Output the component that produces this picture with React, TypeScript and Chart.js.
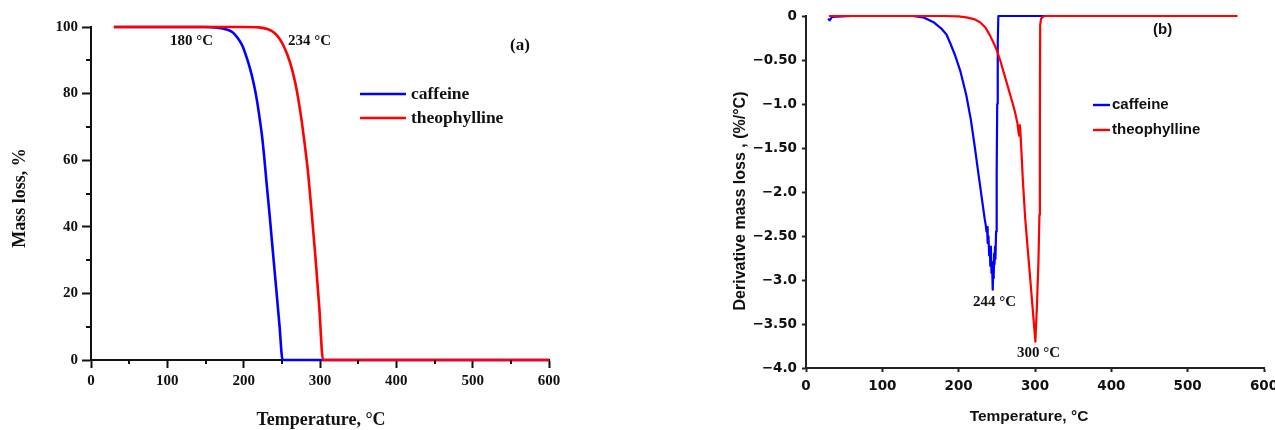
import React, { useEffect, useRef } from 'react';
import { Chart, registerables } from 'chart.js';

Chart.register(...registerables);

// ---------------- data ----------------
const seriesNames = ['caffeine', 'theophylline'];
const seriesColors = ['#0000ff', '#ff0000'];

// (a) TGA mass loss curves
const tgaCaffeineTemp = [30, 100, 150, 165, 175, 185, 192, 198, 203, 208, 213, 217, 221, 224, 227, 230, 234, 238, 243, 247, 251, 600];
const tgaCaffeineMass = [100, 100, 100, 99.8, 99.4, 98.5, 96.8, 94.5, 91.5, 87.8, 83.2, 78.5, 72.5, 67.4, 60.8, 53.2, 43.5, 33.2, 20.5, 10.2, 0, 0];

const tgaTheoTemp = [30, 200, 220, 232, 240, 247, 253, 258, 263, 268, 272, 276, 280, 284, 289, 294, 299, 304, 600];
const tgaTheoMass = [100, 100, 99.9, 99.3, 98.3, 96.5, 94, 91.2, 87.6, 82.8, 77.8, 71.8, 64.8, 57, 44.5, 31, 16, 0, 0];

// (b) DTG derivative curves
const dtgCaffeineTemp = [29, 31, 34, 60, 100, 140, 155, 167, 177, 184, 189, 195, 202, 210, 216, 221, 226, 230, 234, 235.5, 236.5, 237.2, 238, 239, 240, 240.8, 241.5, 242.2, 243, 243.8, 244.6, 245.3, 245.9, 246.5, 247, 247.6, 248.2, 249, 249.8, 250.5, 251.2, 252, 280, 400, 565];
const dtgCaffeineRate = [-0.03, -0.05, -0.01, 0, 0, 0, -0.02, -0.07, -0.14, -0.21, -0.31, -0.44, -0.62, -0.9, -1.18, -1.48, -1.8, -2.05, -2.3, -2.38, -2.45, -2.4, -2.58, -2.5, -2.72, -2.65, -2.84, -2.62, -2.92, -2.8, -3.11, -2.88, -2.98, -2.7, -2.82, -2.62, -2.76, -2.45, -1.8, -1.0, -0.3, 0, 0, 0, 0];

const dtgTheoTemp = [30, 100, 180, 200, 210, 220, 228, 235, 241, 246, 250, 255, 259, 263, 267, 271, 274, 277, 278.5, 279.3, 280.1, 280.8, 282, 284, 287, 290, 293.5, 297, 300.5, 302.5, 304.5, 305.8, 306.4, 306.8, 308, 312, 320, 400, 500, 565];
const dtgTheoRate = [0, 0, 0, -0.005, -0.015, -0.035, -0.07, -0.13, -0.22, -0.31, -0.39, -0.52, -0.64, -0.76, -0.88, -1.0, -1.1, -1.22, -1.33, -1.36, -1.24, -1.3, -1.5, -1.85, -2.28, -2.6, -2.96, -3.33, -3.7, -3.3, -2.8, -2.26, -1.2, -0.1, -0.03, 0, 0, 0, 0, 0];

// tick marks / labels
const tgaMinorX = [50, 150, 250, 350, 450, 550];
const tgaMinorY = [10, 30, 50, 70, 90];
const dtgYTickValues = [-4, -3.5, -3, -2.5, -2, -1.5, -1, -0.5, 0];
const dtgYTickLabels = ['\u22124.0', '\u22123.50', '\u22123.0', '\u22122.50', '\u22122.0', '\u22121.50', '\u22121.0', '\u22120.50', '0'];

// texts
const tgaPeakLabels = ['180 \u00b0C', '234 \u00b0C'];
const dtgPeakLabels = ['244 \u00b0C', '300 \u00b0C'];
const panelLabels = ['(a)', '(b)'];
const tgaAxisTitles = ['Temperature, \u00b0C', 'Mass loss, %'];
const dtgAxisTitles = ['Temperature, \u00b0C', 'Derivative mass loss , (%/\u00b0C)'];

// ---------------- helpers ----------------
const pts = (xs: number[], ys: number[]) => xs.map((x, i) => ({ x, y: ys[i] }));

const SERIF = "'Liberation Serif', 'Times New Roman', serif";
const SANS = "'Liberation Sans', Arial, sans-serif";
const WIDE = "'DejaVu Sans', 'Liberation Sans', sans-serif";
const INK = '#111';

type Txt = { text: string; x: number; y: number; font: string; align?: CanvasTextAlign; rot?: boolean };
type Leg = { x1: number; x2: number; y: number[]; tx: number; font: string; lw: number };
type Minor = { xs: number[]; ys: number[]; xLen: number; yLen: number; lw: number };

function overlay(id: string, texts: Txt[], legend: Leg, minor?: Minor) {
  return {
    id,
    afterDraw(chart: any) {
      const ctx = chart.ctx as CanvasRenderingContext2D;
      ctx.save();
      ctx.textBaseline = 'middle';
      ctx.fillStyle = INK;
      for (const t of texts) {
        ctx.font = t.font;
        ctx.textAlign = t.align || 'left';
        if (t.rot) {
          ctx.save();
          ctx.translate(t.x, t.y);
          ctx.rotate(-Math.PI / 2);
          ctx.fillText(t.text, 0, 0);
          ctx.restore();
        } else {
          ctx.fillText(t.text, t.x, t.y);
        }
      }
      const sorted = [...chart.data.datasets].sort((a: any, b: any) => a.legendIndex - b.legendIndex);
      sorted.forEach((ds: any, i: number) => {
        ctx.strokeStyle = ds.borderColor;
        ctx.lineWidth = legend.lw;
        ctx.beginPath();
        ctx.moveTo(legend.x1, legend.y[i]);
        ctx.lineTo(legend.x2, legend.y[i]);
        ctx.stroke();
        ctx.font = legend.font;
        ctx.textAlign = 'left';
        ctx.fillStyle = INK;
        ctx.fillText(ds.label, legend.tx, legend.y[i]);
      });
      if (minor) {
        const xs = chart.scales.x;
        const ys = chart.scales.y;
        const area = chart.chartArea;
        ctx.strokeStyle = INK;
        ctx.lineWidth = minor.lw;
        ctx.beginPath();
        for (const v of minor.xs) {
          const px = Math.round(xs.getPixelForValue(v));
          ctx.moveTo(px, area.bottom);
          ctx.lineTo(px, area.bottom + minor.xLen);
        }
        for (const v of minor.ys) {
          const py = Math.round(ys.getPixelForValue(v));
          ctx.moveTo(area.left, py);
          ctx.lineTo(area.left - minor.yLen, py);
        }
        ctx.stroke();
      }
      ctx.restore();
    },
  };
}

function lineDs(label: string, idx: number, data: any[], width: number, smooth: boolean) {
  return {
    label,
    legendIndex: idx,
    data,
    borderColor: seriesColors[idx],
    backgroundColor: seriesColors[idx],
    borderWidth: width,
    pointRadius: 0,
    tension: smooth ? 0.35 : 0,
    cubicInterpolationMode: smooth ? 'monotone' : 'default',
    borderJoinStyle: 'round',
    clip: false,
    order: idx === 1 ? 0 : 1,
  };
}

export default function App() {
  const refA = useRef<HTMLCanvasElement>(null);
  const refB = useRef<HTMLCanvasElement>(null);

  useEffect(() => {
    // ---------- panel (a) ----------
    const tickFontA = { family: SERIF, size: 15, weight: 'bold' as const };
    const chartA = new Chart(refA.current as HTMLCanvasElement, {
      type: 'line',
      data: {
        datasets: [
          lineDs(seriesNames[0], 0, pts(tgaCaffeineTemp, tgaCaffeineMass), 2.6, true),
          lineDs(seriesNames[1], 1, pts(tgaTheoTemp, tgaTheoMass), 2.6, true),
        ] as any,
      },
      options: {
        responsive: false,
        devicePixelRatio: 1,
        animation: false,
        events: [],
        layout: { padding: { left: 0, right: 71, top: 27, bottom: 0 } },
        plugins: { legend: { display: false }, tooltip: { enabled: false } },
        scales: {
          x: {
            type: 'linear',
            min: 0,
            max: 600,
            ticks: { stepSize: 100, font: tickFontA, color: INK, padding: 4, maxRotation: 0 },
            grid: { drawOnChartArea: false, tickLength: 8, tickWidth: 2, tickColor: INK },
            border: { color: INK, width: 2 },
            afterFit: (s: any) => { s.height = 70; },
          },
          y: {
            type: 'linear',
            min: 0,
            max: 100,
            ticks: { stepSize: 20, font: tickFontA, color: INK, padding: 4 },
            grid: { drawOnChartArea: false, tickLength: 9, tickWidth: 2, tickColor: INK },
            border: { color: INK, width: 2 },
            afterFit: (s: any) => { s.width = 91; },
          },
        },
      } as any,
      plugins: [
        overlay(
          'ovA',
          [
            { text: tgaPeakLabels[0], x: 170, y: 41, font: `bold 15px ${SERIF}` },
            { text: tgaPeakLabels[1], x: 288, y: 41, font: `bold 15px ${SERIF}` },
            { text: panelLabels[0], x: 510, y: 46, font: `bold 17px ${SERIF}` },
            { text: tgaAxisTitles[0], x: 321, y: 420, font: `bold 18px ${SERIF}`, align: 'center' },
            { text: tgaAxisTitles[1], x: 20, y: 198, font: `bold 18px ${SERIF}`, align: 'center', rot: true },
          ],
          { x1: 360, x2: 406, y: [94, 118], tx: 411, font: `bold 17.5px ${SERIF}`, lw: 2.6 },
          { xs: tgaMinorX, ys: tgaMinorY, xLen: 4, yLen: 5, lw: 2 }
        ),
      ],
    });

    // ---------- panel (b) ----------
    const tickFontB = { family: WIDE, size: 13.5, weight: 'bold' as const };
    const chartB = new Chart(refB.current as HTMLCanvasElement, {
      type: 'line',
      data: {
        datasets: [
          lineDs(seriesNames[0], 0, pts(dtgCaffeineTemp, dtgCaffeineRate), 2.2, false),
          lineDs(seriesNames[1], 1, pts(dtgTheoTemp, dtgTheoRate), 2.2, false),
        ] as any,
      },
      options: {
        responsive: false,
        devicePixelRatio: 1,
        animation: false,
        events: [],
        layout: { padding: { left: 0, right: 56, top: 16, bottom: 0 } },
        plugins: { legend: { display: false }, tooltip: { enabled: false } },
        scales: {
          x: {
            type: 'linear',
            min: 0,
            max: 600,
            ticks: { stepSize: 100, font: tickFontB, color: INK, padding: 6, maxRotation: 0 },
            grid: { drawOnChartArea: false, tickLength: 4, tickWidth: 2, tickColor: '#222' },
            border: { color: '#222', width: 2 },
            afterFit: (s: any) => { s.height = 62; },
          },
          y: {
            type: 'linear',
            min: -4,
            max: 0,
            afterBuildTicks: (s: any) => { s.ticks = dtgYTickValues.map((v) => ({ value: v })); },
            ticks: {
              font: tickFontB,
              color: INK,
              padding: 5,
              callback: (v: any) => {
                const i = dtgYTickValues.findIndex((t) => Math.abs(t - Number(v)) < 1e-6);
                return i >= 0 ? dtgYTickLabels[i] : '';
              },
            },
            grid: { drawOnChartArea: false, tickLength: 4, tickWidth: 2, tickColor: '#222' },
            border: { color: '#222', width: 2 },
            afterFit: (s: any) => { s.width = 186; },
          },
        },
      } as any,
      plugins: [
        overlay(
          'ovB',
          [
            { text: dtgPeakLabels[0], x: 353, y: 302, font: `bold 15px ${SERIF}` },
            { text: dtgPeakLabels[1], x: 397, y: 353, font: `bold 15px ${SERIF}` },
            { text: panelLabels[1], x: 533, y: 30, font: `bold 15px ${SANS}` },
            { text: dtgAxisTitles[0], x: 409, y: 417, font: `bold 15.5px ${SANS}`, align: 'center' },
            { text: dtgAxisTitles[1], x: 121, y: 201, font: `bold 16px ${SANS}`, align: 'center', rot: true },
          ],
          { x1: 473, x2: 490, y: [105, 130], tx: 492, font: `bold 15px ${SANS}`, lw: 2.4 }
        ),
      ],
    });

    return () => {
      chartA.destroy();
      chartB.destroy();
    };
  }, []);

  return (
    <div
      style={{
        position: 'fixed',
        left: 0,
        top: 0,
        width: 1275,
        height: 430,
        overflow: 'hidden',
        background: '#fff',
      }}
    >
      <canvas
        ref={refA}
        width={620}
        height={430}
        style={{ position: 'absolute', left: 0, top: 0, width: 620, height: 430 }}
      />
      <canvas
        ref={refB}
        width={700}
        height={430}
        style={{ position: 'absolute', left: 620, top: 0, width: 700, height: 430 }}
      />
    </div>
  );
}
